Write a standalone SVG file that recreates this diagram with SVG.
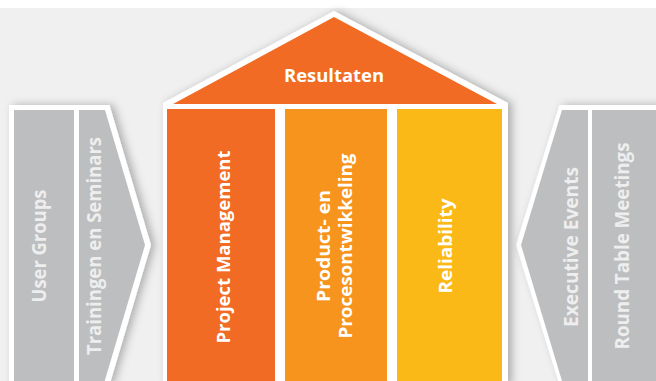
<svg xmlns="http://www.w3.org/2000/svg" width="656" height="381" viewBox="0 0 656 381">
<defs>
<filter id="sh" x="-20%" y="-20%" width="140%" height="140%">
<feDropShadow dx="4" dy="0" stdDeviation="4" flood-color="#000" flood-opacity="0.28"/>
</filter>
<style>
.w{fill:#ffffff}
.g{fill:#bdbec0}
.t{font-family:"Open Sans","Liberation Sans",sans-serif;font-weight:700;font-size:18.5px;fill:#ffffff;text-anchor:middle}
.tg{font-family:"Open Sans","Liberation Sans",sans-serif;font-weight:700;font-size:19px;fill:#eeeeee;text-anchor:middle}
</style>
</defs>
<rect x="0" y="0" width="656" height="381" fill="#ffffff"/>
<rect x="0" y="8" width="656" height="373" fill="#f0f0f0"/>

<g id="left-panel">
<polygon class="w" filter="url(#sh)" points="9,105 109.5,105 151,245 109.5,385 9,385"/>
<g id="user-groups">
<rect class="g" x="14" y="110" width="60" height="275"/>
<text class="tg" transform="translate(46,246) rotate(-90)" textLength="113" lengthAdjust="spacingAndGlyphs">User Groups</text>
</g>
<g id="trainingen">
<polygon class="g" points="79,110 105,110 145,245 105,380 79,381"/>
<polygon class="g" points="79,380 105,380 104.7,381 79,381"/>
<text class="tg" transform="translate(101,246) rotate(-90)" textLength="218" lengthAdjust="spacingAndGlyphs">Trainingen en Seminars</text>
</g>
</g>

<g id="right-panel">
<polygon class="w" filter="url(#sh)" points="559.5,105 660,105 660,385 559.5,385 516,245"/>
<g id="executive-events">
<polygon class="g" points="562,110 588,110 588,381 562,381 521,245"/>
<text class="tg" transform="translate(578,247) rotate(-90)" textLength="160" lengthAdjust="spacingAndGlyphs">Executive Events</text>
</g>
<g id="round-table">
<rect class="g" x="592" y="110" width="70" height="275"/>
<text class="tg" transform="translate(629,246) rotate(-90)" textLength="207" lengthAdjust="spacingAndGlyphs">Round Table Meetings</text>
</g>
</g>

<g id="house">
<polygon class="w" filter="url(#sh)" points="163,103 334,11 508,103 508,385 163,385"/>
<g id="resultaten">
<polygon fill="#f26b24" points="173,104 334,17 497,104"/>
<text class="t" x="334" y="82" font-size="19.5" textLength="100" lengthAdjust="spacingAndGlyphs">Resultaten</text>
</g>
<g id="project-management">
<rect fill="#f26b24" x="167" y="109" width="108" height="275"/>
<text class="t" transform="translate(230,247) rotate(-90)" textLength="193" lengthAdjust="spacingAndGlyphs">Project Management</text>
</g>
<g id="product-procesontwikkeling">
<rect fill="#f7941e" x="285" y="109" width="102" height="275"/>
<text class="t" transform="translate(330,246) rotate(-90)" textLength="112" lengthAdjust="spacingAndGlyphs">Product- en</text>
<text class="t" transform="translate(352,246) rotate(-90)" textLength="185" lengthAdjust="spacingAndGlyphs">Procesontwikkeling</text>
</g>
<g id="reliability">
<rect fill="#fbb917" x="397" y="109" width="105" height="275"/>
<text class="t" transform="translate(452,246) rotate(-90)" textLength="95" lengthAdjust="spacingAndGlyphs">Reliability</text>
</g>
</g>
<g id="connectors"/>
</svg>
